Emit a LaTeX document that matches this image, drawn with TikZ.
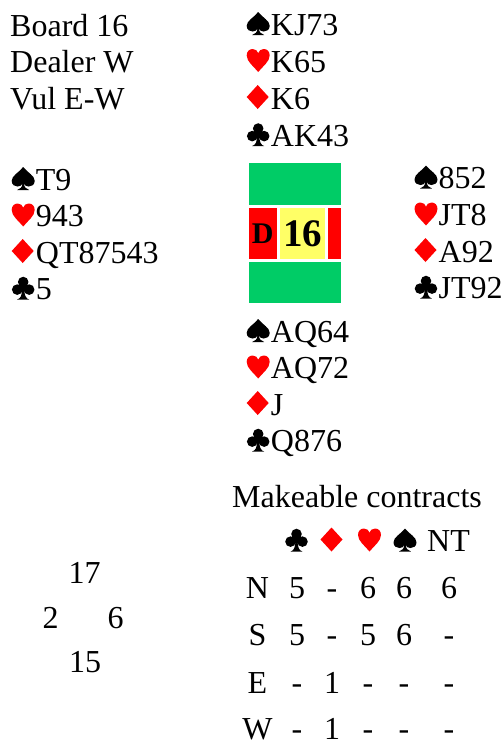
\documentclass[tikz,border=0pt]{standalone}
\usepackage{fontspec}
\setmainfont{Liberation Serif}
\definecolor{boardgreen}{RGB}{0,204,102}
\definecolor{boardyellow}{RGB}{255,255,102}
\definecolor{suitred}{RGB}{255,0,0}
\tikzset{
  spadesym/.pic={\fill[black,x=23pt,y=23pt]
    (0.5,1) .. controls (0.3,0.75) and (0,0.62) .. (0,0.4)
    .. controls (0,0.22) and (0.14,0.15) .. (0.26,0.15)
    .. controls (0.37,0.15) and (0.45,0.21) .. (0.47,0.29)
    .. controls (0.46,0.13) and (0.38,0.04) .. (0.24,0) -- (0.76,0)
    .. controls (0.62,0.04) and (0.54,0.13) .. (0.53,0.29)
    .. controls (0.55,0.21) and (0.63,0.15) .. (0.74,0.15)
    .. controls (0.86,0.15) and (1,0.22) .. (1,0.4)
    .. controls (1,0.62) and (0.7,0.75) .. (0.5,1) -- cycle;},
  heartsym/.pic={\fill[suitred,x=23pt,y=23pt]
    (0.5,0) .. controls (0.3,0.25) and (0,0.45) .. (0,0.72)
    .. controls (0,0.9) and (0.12,1) .. (0.26,1)
    .. controls (0.39,1) and (0.47,0.92) .. (0.5,0.82)
    .. controls (0.53,0.92) and (0.61,1) .. (0.74,1)
    .. controls (0.88,1) and (1,0.9) .. (1,0.72)
    .. controls (1,0.45) and (0.7,0.25) .. (0.5,0) -- cycle;},
  diamsym/.pic={\fill[suitred,x=22pt,y=24pt]
    (0.5,0) -- (1,0.5) -- (0.5,1) -- (0,0.5) -- cycle;},
  clubsym/.pic={\fill[black,x=23pt,y=23pt]
    (0.5,0.76) circle[radius=0.23] (0.24,0.43) circle[radius=0.23]
    (0.76,0.43) circle[radius=0.23]
    (0.5,0.55) circle[radius=0.12]
    (0.46,0.5) .. controls (0.45,0.16) and (0.38,0.04) .. (0.24,0) -- (0.76,0)
    .. controls (0.62,0.04) and (0.55,0.16) .. (0.54,0.5) -- cycle;},
  txt/.style={anchor=base west,inner sep=0pt,font=\fontsize{32}{37}\selectfont},
  ctr/.style={anchor=base,inner sep=0pt,font=\fontsize{32}{37}\selectfont}
}
% hand line: name, x, y, suit pic, cards
\newcommand\handline[5]{\pic at (#2,#3) {#4};
  \node[txt,xshift=24pt] (#1) at (#2,#3) {#5};}
\begin{document}
\begin{tikzpicture}[x=1pt,y=-1pt]
\useasboundingbox (0,0) rectangle (504,740);
\clip (0,0) rectangle (504,740);
% board info
\node[txt] (board) at (10,36) {Board 16};
\node[txt] (dealer) at (10,72.7) {Dealer W};
\node[txt] (vul) at (10,109) {Vul E-W};
% North
\handline{n1}{246.7}{35}{spadesym}{KJ73}
\handline{n2}{246.7}{72}{heartsym}{K65}
\handline{n3}{246.7}{109}{diamsym}{K6}
\handline{n4}{246.7}{146}{clubsym}{AK43}
% West
\handline{w1}{11.7}{190}{spadesym}{T9}
\handline{w2}{11.7}{226.5}{heartsym}{943}
\handline{w3}{11.7}{263}{diamsym}{QT87543}
\handline{w4}{11.7}{299.5}{clubsym}{5}
% East
\handline{e1}{414.5}{188.5}{spadesym}{852}
\handline{e2}{414.5}{225.5}{heartsym}{JT8}
\handline{e3}{414.5}{262}{diamsym}{A92}
\handline{e4}{414.5}{298.5}{clubsym}{JT92}
% South
\handline{s1}{246.7}{342}{spadesym}{AQ64}
\handline{s2}{246.7}{378.5}{heartsym}{AQ72}
\handline{s3}{246.7}{415}{diamsym}{J}
\handline{s4}{246.7}{451.5}{clubsym}{Q876}
% board
\fill[boardgreen] (249,163) rectangle (341,205);
\fill[suitred] (249,208) rectangle (276.5,259);
\fill[boardyellow] (280,208) rectangle (325,259);
\fill[suitred] (328,208) rectangle (341,259);
\fill[boardgreen] (249,262) rectangle (341,303);
\node[inner sep=0pt,font=\fontsize{30}{36}\selectfont\bfseries] (dlr) at (262.75,234) {D};
\node[inner sep=0pt,font=\fontsize{39}{46}\selectfont\bfseries] (num) at (302.5,234) {16};
% makeable contracts
\node[txt] (mk) at (232,507) {Makeable contracts};
\pic at (285,551.5) {clubsym};
\pic at (320.5,551.5) {diamsym};
\pic at (358,551.5) {heartsym};
\pic at (393.5,551.5) {spadesym};
\node[ctr] (hnt) at (448.5,551.5) {NT};
\foreach \r/\y/\a/\b/\c/\d/\e in {N/598/5/-/6/6/6, S/645/5/-/5/6/-, E/693.3/-/1/-/-/-, W/739.5/-/1/-/-/-}{
  \node[ctr] (r\r) at (257.5,\y) {\r};
  \node[ctr] (r\r c) at (297,\y) {\a};
  \node[ctr] (r\r d) at (332,\y) {\b};
  \node[ctr] (r\r h) at (368,\y) {\c};
  \node[ctr] (r\r s) at (404,\y) {\d};
  \node[ctr] (r\r n) at (449,\y) {\e};
}
% HCP
\node[ctr] (hn) at (84.7,583) {17};
\node[ctr] (hw) at (50.5,628) {2};
\node[ctr] (he) at (115.7,628) {6};
\node[ctr] (hs2) at (85,672) {15};
\end{tikzpicture}
\end{document}
